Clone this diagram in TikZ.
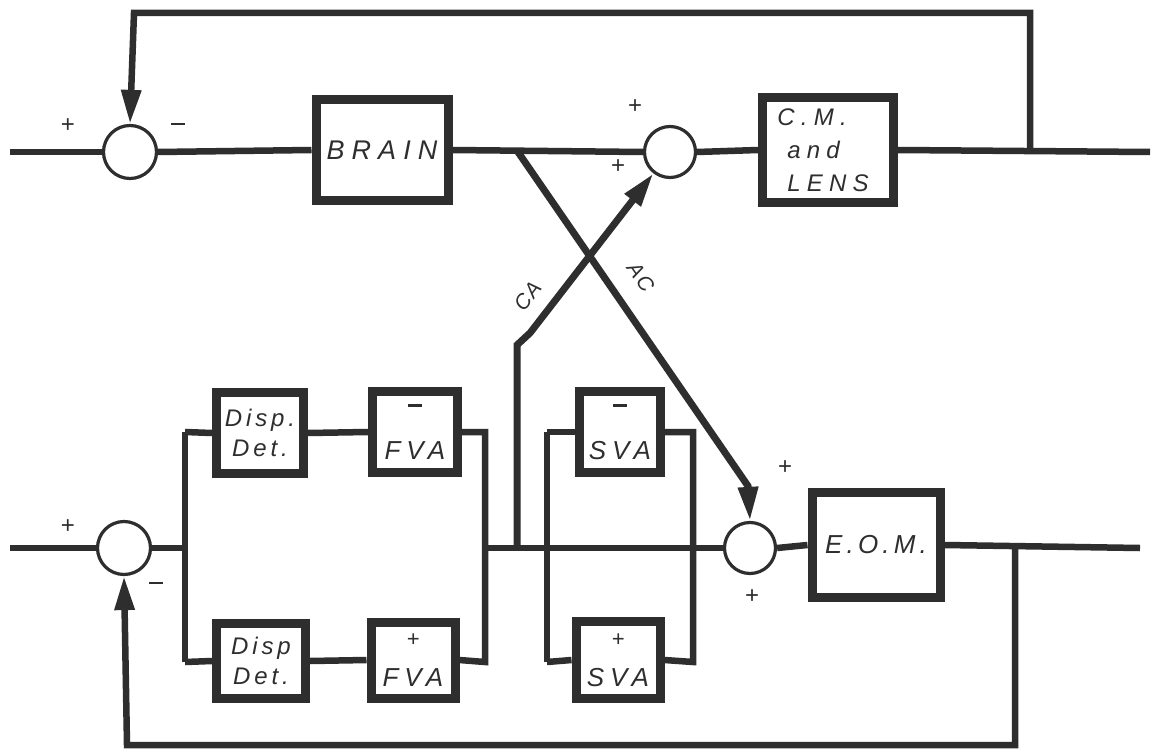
\documentclass[tikz,border=0pt]{standalone}
\usepackage{fontspec}
\setmainfont{Liberation Sans}
\newfontfamily\lblA{Liberation Sans}[LetterSpace=26]
\newfontfamily\lblB{Liberation Sans}[LetterSpace=16]
\newfontfamily\lblC{Liberation Sans}[LetterSpace=22]
\newfontfamily\lblD{Liberation Sans}[LetterSpace=10]
\usetikzlibrary{arrows.meta}
\definecolor{ink}{HTML}{2E2E2E}
\newcommand{\minussign}{\rule[0pt]{14pt}{2.4pt}}
\begin{document}
\begin{tikzpicture}[x=1pt,y=-1pt,
  wire/.style={line width=6.5pt, draw=ink},
  cross/.style={line width=7pt, draw=ink, -{Triangle[length=34pt,width=19pt]}},
  arr/.style={wire, -{Triangle[length=34pt,width=19pt]}},
  sumj/.style={circle, draw=ink, line width=3.2pt, fill=white, minimum size=#1, inner sep=0pt},
  blk/.style={draw=ink, line width=9pt, fill=white, inner sep=0pt, align=center, text=ink},
  big/.style={font=\lblA\itshape\fontsize{27}{33}\selectfont},
  mid/.style={font=\lblB\itshape\fontsize{24}{30}\selectfont},
  amp/.style={font=\lblC\itshape\fontsize{26}{28}\selectfont},
  sgn/.style={font=\fontsize{24}{24}\selectfont, text=ink, inner sep=0pt},
  tag/.style={font=\lblD\itshape\fontsize{21}{21}\selectfont, text=ink, inner sep=0pt}]
\useasboundingbox (0,0) rectangle (1156,754);
\fill[white] (0,0) rectangle (1156,754);

% ---------- coordinates ----------
\coordinate (in1) at (10,152);
\coordinate (out1) at (1150,152);
\coordinate (t1) at (1030,152);
\coordinate (t2) at (1030,13);
\coordinate (t3) at (134,13);
\coordinate (in2) at (10,548);
\coordinate (out2) at (1140,548);
\coordinate (b1) at (1015,548);
\coordinate (b2) at (1015,745);
\coordinate (b3) at (127,745);
\coordinate (pl) at (185,548);
\coordinate (plt) at (185,432);
\coordinate (plb) at (185,662);
\coordinate (pr) at (485,548);
\coordinate (prt) at (485,432);
\coordinate (prb) at (485,662);
\coordinate (slt) at (547,432);
\coordinate (slb) at (547,662);
\coordinate (srt) at (693,432);
\coordinate (srb) at (693,662);
\coordinate (ca0) at (517,548);
\coordinate (ca1) at (517,345);
\coordinate (ca2) at (530,333);
\coordinate (ac0) at (518,152);
\coordinate (ac1) at (748,486);

% ---------- nodes ----------
\node[sumj=53pt] (s1) at (130,152) {};
\node[sumj=51pt] (s2) at (670,152) {};
\node[sumj=53pt] (s4) at (124,548) {};
\node[sumj=51pt] (s3) at (750,548) {};
\node[blk,big,minimum width=132pt,minimum height=101pt] (brain) at (382,150) {BRAIN};
\node[blk,minimum width=131pt,minimum height=105pt,align=left,font=\lblA\itshape\fontsize{24}{33}\selectfont] (cml) at (828,150) {\hspace*{-10pt}C.M.\\and\\LENS};
\node[blk,mid,minimum width=87pt,minimum height=81pt] (dd1) at (260,433) {Disp.\\Det.};
\node[blk,amp,minimum width=85pt,minimum height=81pt] (fva1) at (415,432) {\minussign\\[25pt]FVA};
\node[blk,mid,minimum width=89pt,minimum height=75pt] (dd2) at (261,661) {Disp\\Det.};
\node[blk,amp,minimum width=84pt,minimum height=76pt] (fva2) at (413,660) {{\fontsize{22}{22}\selectfont +}\\[12pt]FVA};
\node[blk,amp,minimum width=81pt,minimum height=81pt] (sva1) at (620,432) {\minussign\\[25pt]SVA};
\node[blk,amp,minimum width=84pt,minimum height=77pt] (sva2) at (618,660) {{\fontsize{22}{22}\selectfont +}\\[12pt]SVA};
\node[blk,font=\lblB\itshape\fontsize{26}{30}\selectfont,minimum width=128pt,minimum height=105pt] (eom) at (876,545) {E.O.M.};

% ---------- top loop ----------
\draw[wire] (in1) -- (s1.west);
\draw[wire] (s1.east) -- (brain.west);
\draw[wire] (brain.east) -- (s2.west);
\draw[wire] (s2.east) -- (cml.west);
\draw[wire] (cml.east) -- (out1);
\draw[arr] (t1) -- (t2) -- (t3) -- (s1.north);

% ---------- bottom loop ----------
\draw[wire] (in2) -- (s4.west);
\draw[wire] (s4.east) -- (pl);
\draw[wire] (plt) -- (plb);
\draw[wire] (plt) -- (dd1.west);
\draw[wire] (dd1.east) -- (fva1.west);
\draw[wire] (fva1.east) -- (prt) -- (prb) -- (fva2.east);
\draw[wire] (plb) -- (dd2.west);
\draw[wire] (dd2.east) -- (fva2.west);
\draw[wire] (pr) -- (s3.west);
\draw[wire] (slt) -- (slb);
\draw[wire] (slt) -- (sva1.west);
\draw[wire] (sva1.east) -- (srt) -- (srb) -- (sva2.east);
\draw[wire] (slb) -- (sva2.west);
\draw[wire] (s3.east) -- (eom.west);
\draw[wire] (eom.east) -- (out2);
\draw[arr] (b1) -- (b2) -- (b3) -- (s4.south);

% ---------- cross links ----------
\draw[cross] (ca0) -- (ca1) -- (ca2) -- (s2);
\draw[cross] (ac0) -- (ac1) -- (s3.north);
\node[tag,rotate=53] (calbl) at (528,296) {CA};
\node[tag,rotate=-55] (aclbl) at (641,277) {AC};

% ---------- signs ----------
\node[sgn] (p1) at (68,126) {+};
\node[sgn] (m1) at (178,124) {\minussign};
\node[sgn] (p2) at (635,107) {+};
\node[sgn] (p3) at (618,167) {+};
\node[sgn] (p4) at (68,527) {+};
\node[sgn] (m4) at (156,583) {\minussign};
\node[sgn] (p5) at (785,468) {+};
\node[sgn] (p6) at (752,597) {+};
\end{tikzpicture}
\end{document}
